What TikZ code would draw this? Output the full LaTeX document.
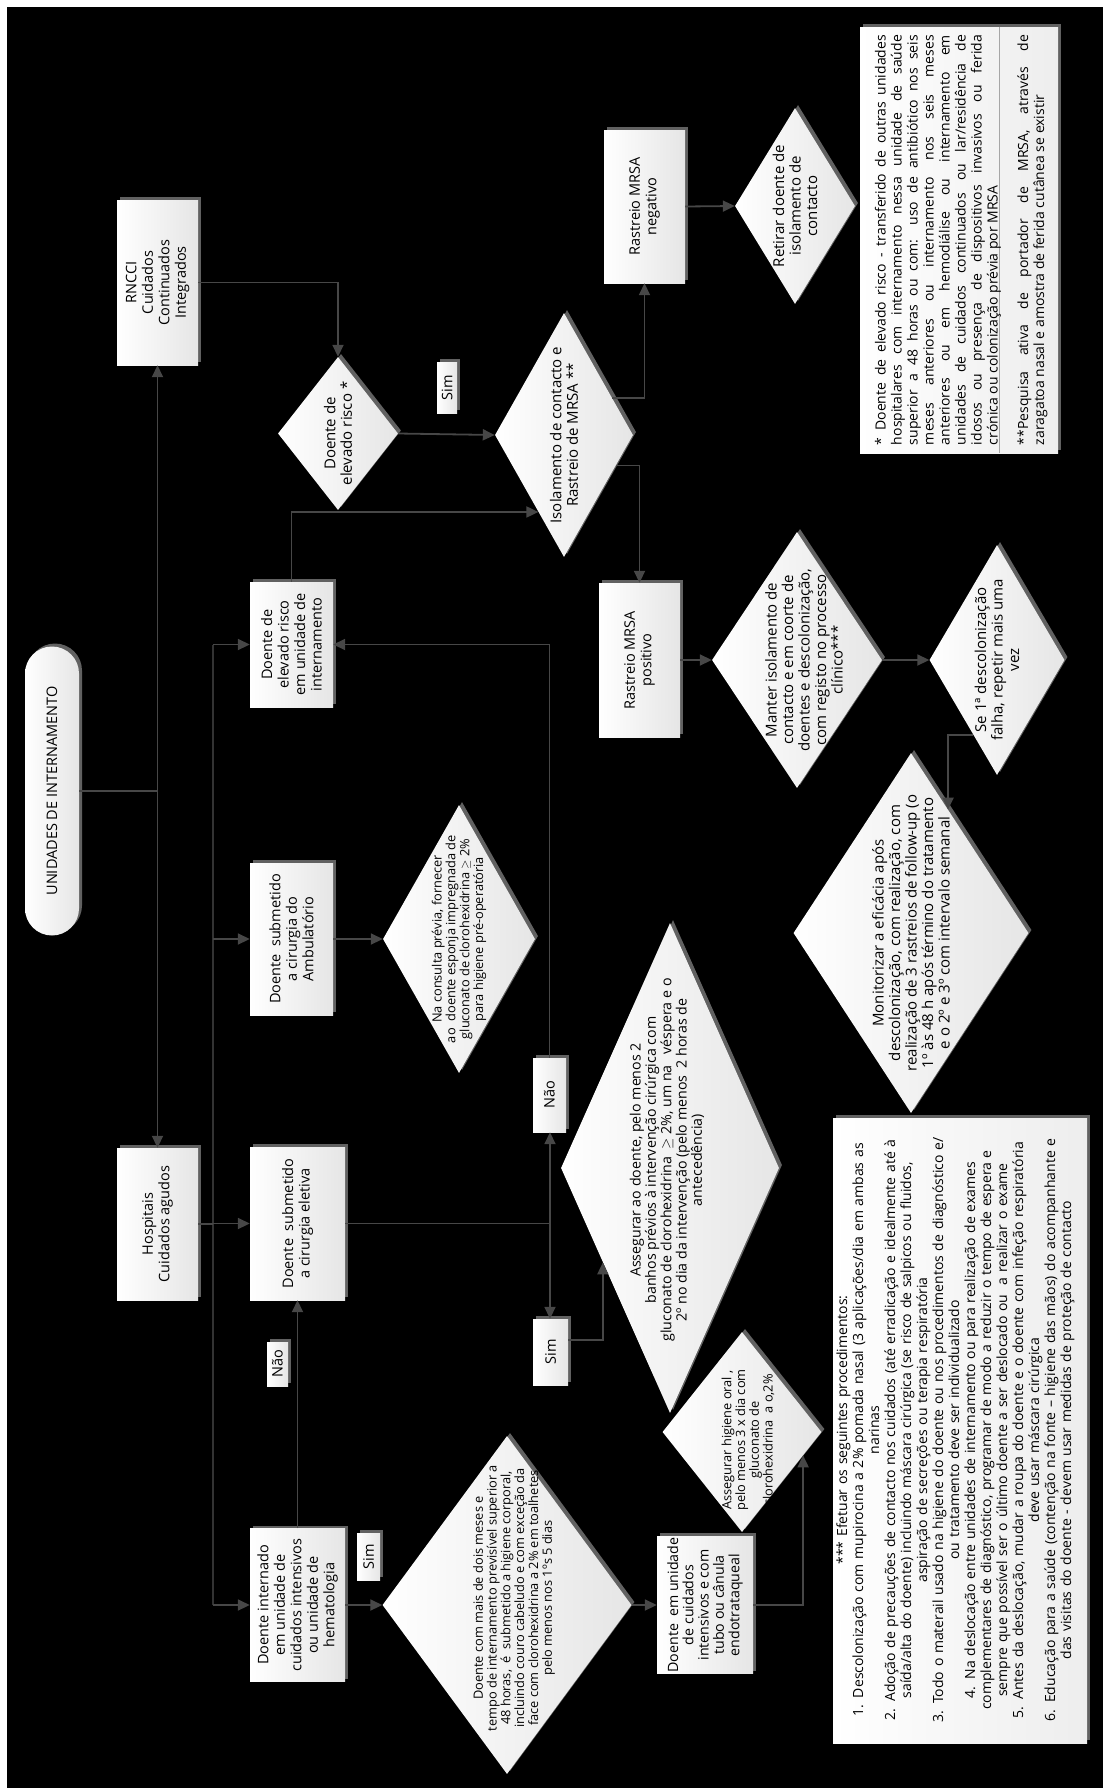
\documentclass[tikz,border=0pt]{standalone}
\usepackage{fontspec}
\setmainfont{Open Sans}
\usetikzlibrary{positioning, calc, arrows.meta, shapes.geometric, shadows}

\begin{document}
\begin{tikzpicture}[
  x=1pt, y=-1pt,
  shdw/.style   = {drop shadow={shadow xshift=3pt, shadow yshift=3pt,
                   fill=black!62, opacity=1}},
  box/.style    = {rectangle, shdw, left color=white, right color=black!10,
                   rotate=90, align=center, inner sep=1pt,
                   font=\fontsize{14.5}{16.5}\selectfont},
  dia/.style    = {diamond, shdw, left color=white, right color=black!10,
                   rotate=90, inner sep=0pt},
  dtxt/.style   = {rotate=90, align=center, inner sep=0pt,
                   font=\fontsize{15}{16.5}\selectfont},
  small/.style  = {font=\fontsize{12.8}{13.8}\selectfont},
  mid/.style    = {font=\fontsize{14.2}{15.3}\selectfont},
  lbl/.style    = {box, inner sep=0pt},
  note/.style   = {rectangle, shdw, left color=white, right color=black!7,
                   rotate=90, inner sep=0pt},
  ntxt/.style   = {rotate=90, inner sep=0pt,
                   font=\fontsize{14}{16}\selectfont},
  conn/.style   = {draw=black!72, line width=1.8pt},
  arr/.style    = {conn, -{Triangle[length=12pt, width=11pt]}},
]

\useasboundingbox (0,0) rectangle (1103,1788);
\fill[white] (0,0) rectangle (1103,1788);
\fill[black] (7,7) rectangle (1103,1788);

% ---- entry points (left column) ---------------------------------------------
\node[box, rounded corners=27pt, minimum width=289pt, minimum height=54pt]
  (unid) at (52,791) {UNIDADES DE INTERNAMENTO};
\node[box, minimum width=165pt, minimum height=81pt] (rncci) at (157.5,282.5)
  {RNCCI\\Cuidados\\Continuados\\Integrados};
\node[box, minimum width=152pt, minimum height=81pt] (hosp) at (157.5,1224)
  {Hospitais\\Cuidados agudos};

% ---- patient types -----------------------------------------------------------
\node[box, minimum width=125pt, minimum height=83pt] (risco) at (291.5,644.5)
  {Doente de\\elevado risco\\em unidade de\\internamento};
\node[box, minimum width=152pt, minimum height=83pt] (ambul) at (291.5,939)
  {Doente\ \ submetido\\a cirurgia do\\Ambulatório};
\node[box, minimum width=153pt, minimum height=95pt] (eletiva) at (297.5,1223.5)
  {Doente\ \ submetido\\a cirurgia eletiva};
\node[box, minimum width=153pt, minimum height=95pt] (intern) at (297.5,1605)
  {Doente internado\\em unidade de\\cuidados intensivos\\ou unidade de\\hematologia};

% ---- MRSA branch ---------------------------------------------------------------
\node[dia, minimum width=153pt, minimum height=120pt] (drisco) at (338,433.5) {};
\node[dtxt] (drisco-t) at (drisco) {Doente de\\elevado risco *};
\node[dia, minimum width=244pt, minimum height=138pt] (isol) at (564,435) {};
\node[dtxt] (isol-t) at (isol) {Isolamento de contacto e\\Rastreio de MRSA **};
\node[box, minimum width=153pt, minimum height=81pt] (neg) at (644.5,206.5)
  {Rastreio MRSA\\negativo};
\node[dia, minimum width=196pt, minimum height=120pt] (retirar) at (795,206) {};
\node[dtxt] (retirar-t) at (retirar) {Retirar doente de\\isolamento de\\contacto};
\node[box, minimum width=154pt, minimum height=81pt] (pos) at (639.5,660)
  {Rastreio MRSA\\positivo};
\node[dia, minimum width=256pt, minimum height=170pt] (manter) at (797,660) {};
\node[dtxt] (manter-t) at (804,660)
  {Manter isolamento de\\contacto e em coorte de\\doentes e descolonização,\\com registo no processo\\clínico***};
\node[dia, minimum width=230pt, minimum height=135pt] (sefalha) at (997,660) {};
\node[dtxt] (sefalha-t) at (sefalha)
  {Se 1ª descolonização\\falha, repetir mais uma\\vez};
\node[dia, minimum width=360pt, minimum height=235pt] (monit) at (911,933) {};
\node[dtxt] (monit-t) at (monit)
  {Monitorizar a eficácia após\\descolonização, com realização, com\\realização de 3 rastreios de follow-up (o\\1º às 48 h após término do tratamento\\e o 2º e 3º com intervalo semanal};

% ---- surgery and intensive care ----------------------------------------------
\node[dia, minimum width=268pt, minimum height=152pt] (consulta) at (459,939) {};
\node[dtxt, small] (consulta-t) at (consulta)
  {Na consulta prévia, fornecer\\ao\ \ doente esponja impregnada de\\gluconato de clorohexidrina $\geq$ 2\%\\para higiene pré-operatória};
\node[dia, minimum width=490pt, minimum height=218pt] (assegurar) at (670,1168) {};
\node[dtxt, mid] (assegurar-t) at (667,1160)
  {Assegurar ao doente, pelo menos 2\\banhos prévios à intervenção cirúrgica com\\gluconato de clorohexidrina\ \ $\geq$ 2\%, um na\ \ \ véspera e o\\2º no dia da intervenção (pelo menos\ \ 2 horas de\\antecedência)};
\node[dia, minimum width=338pt, minimum height=249pt] (mais2) at (507,1605) {};
\node[dtxt, small] (mais2-t) at (514,1598)
  {Doente com mais de dois meses e\\tempo de internamento previsível superior a\\48 horas,\ \ é\ \ submetido a higiene corporal,\\incluindo couro cabeludo e com exceção da\\face com clorohexidrina a 2\% em toalhetes\\pelo menos nos 1ºs 5 dias};
\node[box, mid, minimum width=137pt, minimum height=96pt] (uci) at (705,1605)
  {Doente\ \ em unidade\\de cuidados\\intensivos e com\\tubo ou cânula\\endotrataqueal};
\node[dia, minimum width=200pt, minimum height=159pt] (oral) at (742,1432) {};
\node[dtxt, small] (oral-t) at (748,1440)
  {Assegurar higiene oral ,\\pelo menos 3 x dia com\\gluconato de\\clorohexidrina\ \ a o,2\%};

% ---- yes / no labels ---------------------------------------------------------
\node[lbl, minimum width=51pt, minimum height=20pt] (sim1) at (447,387.5) {Sim};
\node[lbl, minimum width=74pt, minimum height=33pt] (nao1) at (549.5,1095) {Não};
\node[lbl, minimum width=66pt, minimum height=35pt] (sim2) at (550.5,1352) {Sim};
\node[lbl, minimum width=44pt, minimum height=21pt] (nao2) at (277.5,1364) {Não};
\node[lbl, minimum width=47pt, minimum height=23pt] (sim3) at (368.5,1556.5) {Sim};

% ---- notes -------------------------------------------------------------------
\node[note, minimum width=426pt, minimum height=198pt] (fnbox) at (959,240) {};
\coordinate (dv) at (999,0);
\draw[draw=black!35, line width=1pt] (dv |- fnbox.east) -- (dv |- fnbox.west);
\node[ntxt, text width=410pt, align=justify] (fn1) at (938,240)
  {* Doente de elevado risco - transferido de outras unidades\linebreak
   hospitalares com internamento nessa unidade de saúde\linebreak
   superior a 48 horas ou com: uso de antibiótico nos seis\linebreak
   meses anteriores ou internamento nos seis meses\linebreak
   anteriores ou em hemodiálise ou internamento em\linebreak
   unidades de cuidados continuados ou lar/residência de\linebreak
   idosos ou presença de dispositivos invasivos ou ferida\linebreak
   crónica ou colonização prévia por MRSA};
\node[ntxt, text width=410pt, align=justify] (fn2) at (1032.5,240)
  {**Pesquisa ativa de portador de MRSA, através de\linebreak
   zaragatoa nasal e amostra de ferida cutânea se existir};

\node[note, minimum width=625pt, minimum height=254pt] (procbox) at (960,1430.5) {};
\node[ntxt, text width=622pt, align=center] (proc) at (955.5,1430)
  {*** Efetuar os seguintes procedimentos:\\
   1. Descolonização com mupirocina a 2\% pomada nasal (3 aplicações/dia em ambas as\\
   narinas\\
   2. Adoção de precauções de contacto nos cuidados (até erradicação e idealmente até à\\
   saída/alta do doente) incluindo máscara cirúrgica (se risco de salpicos ou fluidos,\\
   aspiração de secreções ou terapia respiratória\\
   3. Todo o materail usado na higiene do doente ou nos procedimentos de diagnóstico e/\\
   ou tratamento deve ser individualizado\\
   4. Na deslocação entre unidades de internamento ou para realização de exames\\
   complementares de diagnóstico, programar de modo a reduzir o tempo de espera e\\
   sempre que possível ser o último doente a ser deslocado ou\ \ a realizar o exame\\
   5. Antes da deslocação, mudar a roupa do doente e o doente com infeção respiratória\\
   deve usar máscara cirúrgica\\
   6. Educação para a saúde (contenção na fonte – higiene das mãos) do acompanhante e\\
   das visitas do doente - devem usar medidas de proteção de contacto};

% ---- connectors: entry trunk -------------------------------------------------
\coordinate (jt) at (unid.south -| rncci.west);
\draw[conn] (unid.south) -- (jt);
\draw[arr] (jt) -- (rncci.west);
\draw[arr] (jt) -- (hosp.east);
\draw[arr] (rncci.south) -| (drisco.east);

% hospital bus to the four patient types
\coordinate (bus) at (213,0);
\draw[conn, line width=1.2pt, draw=black!80] (risco.north -| bus) -- (intern.north -| bus);
\draw[conn] (hosp.south) -- (hosp.south -| bus);
\draw[arr] (risco.north -| bus) -- (risco.north);
\draw[arr] (ambul.north -| bus) -- (ambul.north);
\draw[arr] (eletiva.north -| bus) -- (eletiva.north);
\draw[arr] (intern.north -| bus) -- (intern.north);

% ---- connectors: MRSA branch -------------------------------------------------
\draw[arr] (drisco.south) -- (isol.north);
\draw[arr] (risco.east) |- ($(isol.north)!0.63!(isol.west)$);
\draw[arr] ($(isol.south)!0.3!(isol.east)$) -| (neg.west);
\draw[arr] (neg.south) -- (retirar.north);
\draw[arr] ($(isol.south)!0.25!(isol.west)$) -| (pos.east);
\draw[arr] (pos.south) -- (manter.north);
\draw[arr] (manter.south) -- (sefalha.north);
\draw[arr] ($(sefalha.west)!0.35!(sefalha.north)$) -| ($(monit.east)!0.315!(monit.south)$);

% ---- connectors: surgery and intensive care ----------------------------------
\draw[arr] (ambul.south) -- (consulta.north);
\coordinate (j2) at (550,1223.5);
\draw[conn] (eletiva.south) -- (j2);
\draw[arr] (j2) -- (j2 |- nao1.west);
\draw[arr] (j2) -- (j2 |- sim2.east);
\draw[arr] (nao1.east) |- (risco.south);
\draw[arr] ([yshift=12pt]sim2.south) -| ($(assegurar.north)!0.385!(assegurar.west)$);
\draw[arr] (intern.east) -- (eletiva.west);
\draw[arr] (intern.south) -- (mais2.north);
\draw[arr] (mais2.south) -- (uci.north);
\draw[arr] (uci.south) -| ($(oral.south)!0.233!(oral.west)$);

\end{tikzpicture}
\end{document}
